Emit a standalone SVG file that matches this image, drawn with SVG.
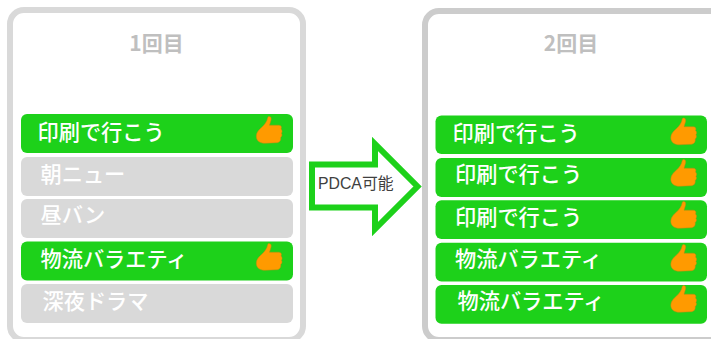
<svg xmlns="http://www.w3.org/2000/svg" width="711" height="339" viewBox="0 0 711 339">
<style>
text{font-family:"Noto Sans CJK JP","Noto Sans",sans-serif}
.t{font-size:21px;font-weight:700;fill:#bfbfbf;text-anchor:middle}
.l{font-size:21.200px;font-weight:500;fill:#fff}
.g{fill:#1dd11a}
.n{fill:#d9d9d9}
</style>
<defs>
<path id="up" d="M11 -16C13 -16 13.500 -14.300 13 -12.300C12.500 -10.500 12 -8.800 11.500 -7.300L20.800 -7.300C23.200 -7.300 24 -5.200 23 -3.500C24.400 -2.300 24.400 -0.300 23.400 0.800C24.400 2.200 24 4 22.700 5C23.100 7.500 21.900 9.800 19.400 10.200L7 10.800C2 10.800 -1.700 8.500 -1.700 3.800C-1.700 0 1 -3 4 -5.500C6.800 -8 9 -11 9.600 -14.400C9.800 -15.400 10.200 -16 11 -16Z" fill="#ff9a00" stroke="#bd8a12" stroke-width=".5"/>
</defs>
<rect width="711" height="339" fill="#fff"/>
<g id="panel1">
<rect x="10" y="10" width="293" height="330" rx="14" fill="#fff" stroke="#d9d9d9" stroke-width="6"/>
<text class="t" x="156.500" y="51">1回目</text>
</g>
<g id="panel2">
<rect x="425" y="11" width="300" height="329" rx="14" fill="#fff" stroke="#cccccc" stroke-width="6"/>
<text class="t" x="571" y="51">2回目</text>
</g>
<g id="p1-r1"><rect class="g" x="21" y="114" width="272" height="39" rx="6"/><text class="l" x="37.500" y="140">印刷で行こう</text><use href="#up" x="258" y="132.500"/></g>
<g id="p1-r2"><rect class="n" x="21" y="157" width="272" height="39" rx="6"/><text class="l" x="40.500" y="182">朝ニュー</text></g>
<g id="p1-r3"><rect class="n" x="21" y="199" width="272" height="39" rx="6"/><text class="l" x="40.500" y="223">昼バン</text></g>
<g id="p1-r4"><rect class="g" x="21" y="241.500" width="272" height="39" rx="6"/><text class="l" x="40.500" y="267">物流バラエティ</text><use href="#up" x="258" y="259.500"/></g>
<g id="p1-r5"><rect class="n" x="21" y="284" width="272" height="39" rx="6"/><text class="l" x="42.500" y="309">深夜ドラマ</text></g>
<g id="p2-r1"><rect class="g" x="435.500" y="115.500" width="271.500" height="38.500" rx="6"/><text class="l" x="452.500" y="141">印刷で行こう</text><use href="#up" x="672.500" y="134"/></g>
<g id="p2-r2"><rect class="g" x="435.500" y="158" width="271.500" height="39" rx="6"/><text class="l" x="455" y="182">印刷で行こう</text><use href="#up" x="672.500" y="175.500"/></g>
<g id="p2-r3"><rect class="g" x="435.500" y="200.300" width="271.500" height="38.700" rx="6"/><text class="l" x="455" y="225">印刷で行こう</text><use href="#up" x="672.500" y="217.500"/></g>
<g id="p2-r4"><rect class="g" x="435.500" y="242.700" width="271.500" height="38.700" rx="6"/><text class="l" x="455" y="267">物流バラエティ</text><use href="#up" x="672.500" y="260.500"/></g>
<g id="p2-r5"><rect class="g" x="435.500" y="285" width="271.500" height="38.700" rx="6"/><text class="l" x="457.500" y="309">物流バラエティ</text><use href="#up" x="672.500" y="301.500"/></g>
<g id="connectors">
<path d="M312 164.500H375V144L417.500 186.500L375 229V207.500H312Z" fill="#fff" stroke="#1dd11a" stroke-width="6"/>
<text x="318" y="189" font-size="15.800" fill="#404040" style="font-family:'Liberation Sans','Noto Sans CJK JP',sans-serif">PDCA可能</text>
</g>
</svg>
